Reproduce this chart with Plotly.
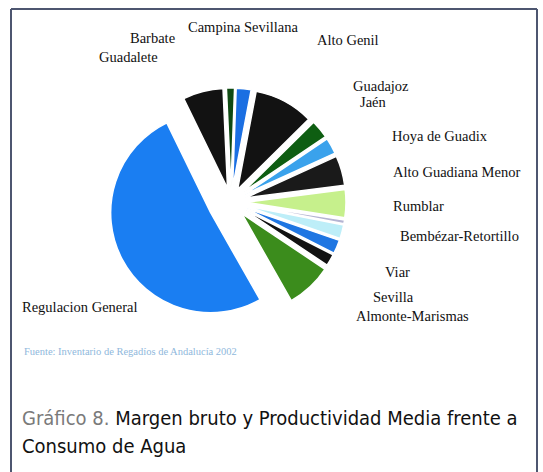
import plotly.graph_objects as go

# Irrigation zones, clockwise from just left of 12 o'clock
zonas = [
    "Guadalete", "Barbate", "Campina Sevillana", "Alto Genil", "Guadajoz",
    "Jaén", "Hoya de Guadix", "Alto Guadiana Menor", "Rumblar",
    "Bembézar-Retortillo", "Viar", "Sevilla", "Almonte-Marismas",
    "Regulacion General",
]
# Share of water consumption (%)
consumo = [6.5, 1.3, 2.4, 9.6, 3.0, 2.6, 4.8, 4.5, 0.6, 2.2, 2.2, 1.9, 7.4, 51.0]

colores = [
    "#121212", "#0f4a12", "#1b6fe2", "#121212", "#0e5e12",
    "#3aa2ec", "#1a1a1a", "#c6f08c", "#b4b4d2",
    "#bdeef8", "#1f76e2", "#121212", "#3b8c1c",
    "#1a7ef2",
]
separacion = [0.14, 0.14, 0.14, 0.14, 0.15, 0.15, 0.15, 0.15, 0.15,
              0.15, 0.15, 0.15, 0.16, 0.23]

W, H = 543, 472


def px(x):
    return x / W


def py(y):
    return 1 - y / H


# pie geometry in pixels: centre and radius of the unexploded pie
cx, cy, r = 231, 202, 100
half = r * (1 + max(separacion))

fig = go.Figure(go.Pie(
    labels=zonas,
    values=consumo,
    sort=False,
    direction="clockwise",
    rotation=-26,
    pull=separacion,
    marker=dict(colors=colores, line=dict(color="white", width=1.5)),
    textinfo="none",
    hoverinfo="label+percent",
    showlegend=False,
    domain=dict(x=[px(cx - half), px(cx + half)],
                y=[py(cy + half), py(cy - half)]),
))

# outside labels (serif), positioned by hand around the pie
pos_etiquetas = {
    "Campina Sevillana": (243, 27),
    "Barbate": (152, 38),
    "Guadalete": (128, 57),
    "Alto Genil": (348, 40),
    "Guadajoz": (381, 86),
    "Jaén": (373, 102),
    "Hoya de Guadix": (440, 136),
    "Alto Guadiana Menor": (456, 172),
    "Rumblar": (418, 206),
    "Bembézar-Retortillo": (460, 236),
    "Viar": (397, 272),
    "Sevilla": (393, 297),
    "Almonte-Marismas": (412, 316),
    "Regulacion General": (80, 307),
}
anotaciones = []
for nombre in zonas:
    x, y = pos_etiquetas[nombre]
    anotaciones.append(dict(
        x=px(x), y=py(y), xref="paper", yref="paper", showarrow=False,
        text=nombre, xanchor="center", yanchor="middle",
        font=dict(family="Liberation Serif, DejaVu Serif, serif", size=14.5,
                  color="#111111"),
    ))

fuente = "Fuente: Inventario de Regadíos de Andalucía 2002"
anotaciones.append(dict(
    x=px(22), y=py(351), xref="paper", yref="paper", showarrow=False,
    text=fuente, xanchor="left", yanchor="middle",
    font=dict(family="Liberation Serif, serif", size=10.5, color="#8fb8dc"),
))

titulo1 = ("<span style='color:#7a7a7a'>Gráfico 8.</span> "
           "Margen bruto y Productividad Media frente a")
titulo2 = "Consumo de Agua"
cond = "DejaVu Sans Condensed, Liberation Sans Narrow, sans-serif"
anotaciones.append(dict(
    x=px(20), y=py(418), xref="paper", yref="paper", showarrow=False,
    text=titulo1, xanchor="left", yanchor="middle",
    font=dict(family=cond, size=20, color="#111111"),
))
anotaciones.append(dict(
    x=px(20), y=py(446), xref="paper", yref="paper", showarrow=False,
    text=titulo2, xanchor="left", yanchor="middle",
    font=dict(family=cond, size=20, color="#111111"),
))

# frame around the figure
marco = [
    dict(type="line", xref="paper", yref="paper", x0=px(11), x1=px(537),
         y0=py(9), y1=py(9), line=dict(color="#4d5670", width=2)),
    dict(type="line", xref="paper", yref="paper", x0=px(11), x1=px(11),
         y0=py(9), y1=py(472), line=dict(color="#4d5670", width=2)),
    dict(type="line", xref="paper", yref="paper", x0=px(537), x1=px(537),
         y0=py(9), y1=py(472), line=dict(color="#4d5670", width=2)),
]

fig.update_layout(
    width=W, height=H,
    margin=dict(l=0, r=0, t=0, b=0),
    paper_bgcolor="white",
    plot_bgcolor="white",
    annotations=anotaciones,
    shapes=marco,
)

fig.write_html("out.html")
